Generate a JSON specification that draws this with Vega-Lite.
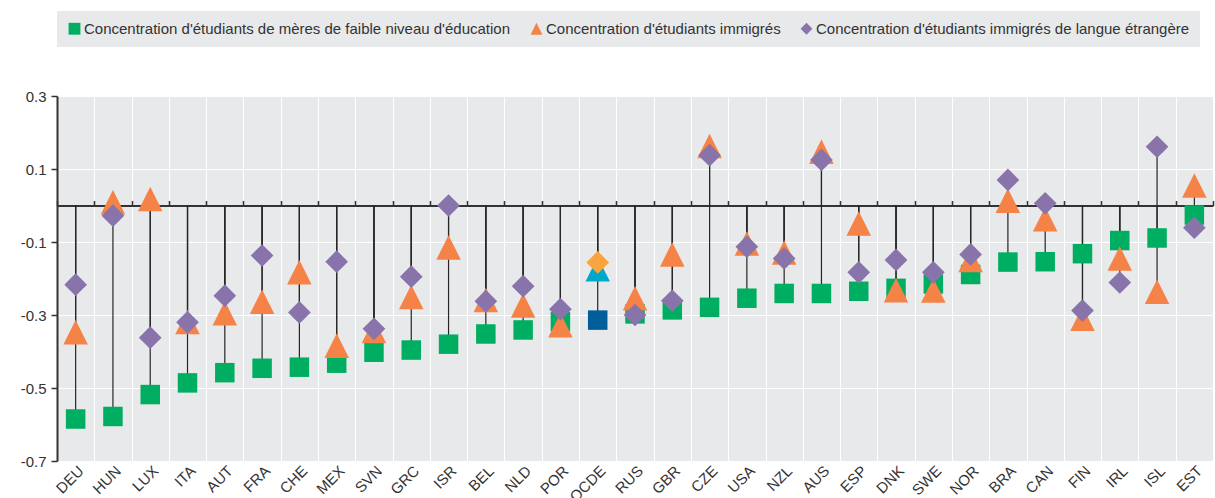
{
  "$schema": "https://vega.github.io/schema/vega-lite/v6.json",
  "width": 1156,
  "height": 365,
  "autosize": {"type": "none"},
  "padding": {"left": 57, "top": 96, "right": 2, "bottom": 37},
  "background": "white",
  "config": {
    "view": {"fill": "#E8E9EB", "stroke": null},
    "font": "Liberation Sans",
    "axis": {"labelFont": "Liberation Sans", "labelColor": "#333333", "labelFontSize": 15, "title": null},
    "legend": {
      "orient": "top", "direction": "horizontal", "title": null, "fillColor": "#E8E9EB",
      "padding": 10, "offset": 49, "labelFontSize": 15, "labelFont": "Liberation Sans",
      "labelColor": "#333333", "labelLimit": 900, "symbolSize": 140, "columnPadding": 18,
      "labelOffset": 2, "symbolStrokeWidth": 0
    }
  },
  "datasets": {
    "d": [
      {"c": "DEU", "s": "Concentration d'étudiants de mères de faible niveau d'éducation", "v": -0.585},
      {"c": "DEU", "s": "Concentration d'étudiants immigrés", "v": -0.347},
      {"c": "DEU", "s": "Concentration d'étudiants immigrés de langue étrangère", "v": -0.217},
      {"c": "HUN", "s": "Concentration d'étudiants de mères de faible niveau d'éducation", "v": -0.578},
      {"c": "HUN", "s": "Concentration d'étudiants immigrés", "v": 0.009},
      {"c": "HUN", "s": "Concentration d'étudiants immigrés de langue étrangère", "v": -0.028},
      {"c": "LUX", "s": "Concentration d'étudiants de mères de faible niveau d'éducation", "v": -0.518},
      {"c": "LUX", "s": "Concentration d'étudiants immigrés", "v": 0.018},
      {"c": "LUX", "s": "Concentration d'étudiants immigrés de langue étrangère", "v": -0.362},
      {"c": "ITA", "s": "Concentration d'étudiants de mères de faible niveau d'éducation", "v": -0.486},
      {"c": "ITA", "s": "Concentration d'étudiants immigrés", "v": -0.319},
      {"c": "ITA", "s": "Concentration d'étudiants immigrés de langue étrangère", "v": -0.320},
      {"c": "AUT", "s": "Concentration d'étudiants de mères de faible niveau d'éducation", "v": -0.458},
      {"c": "AUT", "s": "Concentration d'étudiants immigrés", "v": -0.295},
      {"c": "AUT", "s": "Concentration d'étudiants immigrés de langue étrangère", "v": -0.247},
      {"c": "FRA", "s": "Concentration d'étudiants de mères de faible niveau d'éducation", "v": -0.446},
      {"c": "FRA", "s": "Concentration d'étudiants immigrés", "v": -0.264},
      {"c": "FRA", "s": "Concentration d'étudiants immigrés de langue étrangère", "v": -0.137},
      {"c": "CHE", "s": "Concentration d'étudiants de mères de faible niveau d'éducation", "v": -0.443},
      {"c": "CHE", "s": "Concentration d'étudiants immigrés", "v": -0.183},
      {"c": "CHE", "s": "Concentration d'étudiants immigrés de langue étrangère", "v": -0.293},
      {"c": "MEX", "s": "Concentration d'étudiants de mères de faible niveau d'éducation", "v": -0.432},
      {"c": "MEX", "s": "Concentration d'étudiants immigrés", "v": -0.384},
      {"c": "MEX", "s": "Concentration d'étudiants immigrés de langue étrangère", "v": -0.154},
      {"c": "SVN", "s": "Concentration d'étudiants de mères de faible niveau d'éducation", "v": -0.402},
      {"c": "SVN", "s": "Concentration d'étudiants immigrés", "v": -0.344},
      {"c": "SVN", "s": "Concentration d'étudiants immigrés de langue étrangère", "v": -0.338},
      {"c": "GRC", "s": "Concentration d'étudiants de mères de faible niveau d'éducation", "v": -0.396},
      {"c": "GRC", "s": "Concentration d'étudiants immigrés", "v": -0.251},
      {"c": "GRC", "s": "Concentration d'étudiants immigrés de langue étrangère", "v": -0.195},
      {"c": "ISR", "s": "Concentration d'étudiants de mères de faible niveau d'éducation", "v": -0.380},
      {"c": "ISR", "s": "Concentration d'étudiants immigrés", "v": -0.115},
      {"c": "ISR", "s": "Concentration d'étudiants immigrés de langue étrangère", "v": 0.000},
      {"c": "BEL", "s": "Concentration d'étudiants de mères de faible niveau d'éducation", "v": -0.352},
      {"c": "BEL", "s": "Concentration d'étudiants immigrés", "v": -0.259},
      {"c": "BEL", "s": "Concentration d'étudiants immigrés de langue étrangère", "v": -0.262},
      {"c": "NLD", "s": "Concentration d'étudiants de mères de faible niveau d'éducation", "v": -0.341},
      {"c": "NLD", "s": "Concentration d'étudiants immigrés", "v": -0.274},
      {"c": "NLD", "s": "Concentration d'étudiants immigrés de langue étrangère", "v": -0.221},
      {"c": "POR", "s": "Concentration d'étudiants de mères de faible niveau d'éducation", "v": -0.318},
      {"c": "POR", "s": "Concentration d'étudiants immigrés", "v": -0.328},
      {"c": "POR", "s": "Concentration d'étudiants immigrés de langue étrangère", "v": -0.284},
      {"c": "OCDE", "s": "Concentration d'étudiants de mères de faible niveau d'éducation", "v": -0.314},
      {"c": "OCDE", "s": "Concentration d'étudiants immigrés", "v": -0.175},
      {"c": "OCDE", "s": "Concentration d'étudiants immigrés de langue étrangère", "v": -0.156},
      {"c": "RUS", "s": "Concentration d'étudiants de mères de faible niveau d'éducation", "v": -0.297},
      {"c": "RUS", "s": "Concentration d'étudiants immigrés", "v": -0.254},
      {"c": "RUS", "s": "Concentration d'étudiants immigrés de langue étrangère", "v": -0.300},
      {"c": "GBR", "s": "Concentration d'étudiants de mères de faible niveau d'éducation", "v": -0.286},
      {"c": "GBR", "s": "Concentration d'étudiants immigrés", "v": -0.134},
      {"c": "GBR", "s": "Concentration d'étudiants immigrés de langue étrangère", "v": -0.261},
      {"c": "CZE", "s": "Concentration d'étudiants de mères de faible niveau d'éducation", "v": -0.279},
      {"c": "CZE", "s": "Concentration d'étudiants immigrés", "v": 0.163},
      {"c": "CZE", "s": "Concentration d'étudiants immigrés de langue étrangère", "v": 0.138},
      {"c": "USA", "s": "Concentration d'étudiants de mères de faible niveau d'éducation", "v": -0.254},
      {"c": "USA", "s": "Concentration d'étudiants immigrés", "v": -0.104},
      {"c": "USA", "s": "Concentration d'étudiants immigrés de langue étrangère", "v": -0.113},
      {"c": "NZL", "s": "Concentration d'étudiants de mères de faible niveau d'éducation", "v": -0.241},
      {"c": "NZL", "s": "Concentration d'étudiants immigrés", "v": -0.129},
      {"c": "NZL", "s": "Concentration d'étudiants immigrés de langue étrangère", "v": -0.145},
      {"c": "AUS", "s": "Concentration d'étudiants de mères de faible niveau d'éducation", "v": -0.241},
      {"c": "AUS", "s": "Concentration d'étudiants immigrés", "v": 0.147},
      {"c": "AUS", "s": "Concentration d'étudiants immigrés de langue étrangère", "v": 0.125},
      {"c": "ESP", "s": "Concentration d'étudiants de mères de faible niveau d'éducation", "v": -0.235},
      {"c": "ESP", "s": "Concentration d'étudiants immigrés", "v": -0.049},
      {"c": "ESP", "s": "Concentration d'étudiants immigrés de langue étrangère", "v": -0.183},
      {"c": "DNK", "s": "Concentration d'étudiants de mères de faible niveau d'éducation", "v": -0.227},
      {"c": "DNK", "s": "Concentration d'étudiants immigrés", "v": -0.232},
      {"c": "DNK", "s": "Concentration d'étudiants immigrés de langue étrangère", "v": -0.149},
      {"c": "SWE", "s": "Concentration d'étudiants de mères de faible niveau d'éducation", "v": -0.215},
      {"c": "SWE", "s": "Concentration d'étudiants immigrés", "v": -0.233},
      {"c": "SWE", "s": "Concentration d'étudiants immigrés de langue étrangère", "v": -0.183},
      {"c": "NOR", "s": "Concentration d'étudiants de mères de faible niveau d'éducation", "v": -0.189},
      {"c": "NOR", "s": "Concentration d'étudiants immigrés", "v": -0.149},
      {"c": "NOR", "s": "Concentration d'étudiants immigrés de langue étrangère", "v": -0.134},
      {"c": "BRA", "s": "Concentration d'étudiants de mères de faible niveau d'éducation", "v": -0.155},
      {"c": "BRA", "s": "Concentration d'étudiants immigrés", "v": 0.013},
      {"c": "BRA", "s": "Concentration d'étudiants immigrés de langue étrangère", "v": 0.070},
      {"c": "CAN", "s": "Concentration d'étudiants de mères de faible niveau d'éducation", "v": -0.154},
      {"c": "CAN", "s": "Concentration d'étudiants immigrés", "v": -0.038},
      {"c": "CAN", "s": "Concentration d'étudiants immigrés de langue étrangère", "v": 0.006},
      {"c": "FIN", "s": "Concentration d'étudiants de mères de faible niveau d'éducation", "v": -0.132},
      {"c": "FIN", "s": "Concentration d'étudiants immigrés", "v": -0.310},
      {"c": "FIN", "s": "Concentration d'étudiants immigrés de langue étrangère", "v": -0.288},
      {"c": "IRL", "s": "Concentration d'étudiants de mères de faible niveau d'éducation", "v": -0.096},
      {"c": "IRL", "s": "Concentration d'étudiants immigrés", "v": -0.145},
      {"c": "IRL", "s": "Concentration d'étudiants immigrés de langue étrangère", "v": -0.211},
      {"c": "ISL", "s": "Concentration d'étudiants de mères de faible niveau d'éducation", "v": -0.089},
      {"c": "ISL", "s": "Concentration d'étudiants immigrés", "v": -0.236},
      {"c": "ISL", "s": "Concentration d'étudiants immigrés de langue étrangère", "v": 0.161},
      {"c": "EST", "s": "Concentration d'étudiants de mères de faible niveau d'éducation", "v": -0.026},
      {"c": "EST", "s": "Concentration d'étudiants immigrés", "v": 0.055},
      {"c": "EST", "s": "Concentration d'étudiants immigrés de langue étrangère", "v": -0.061}
    ]
  },
  "data": {"name": "d"},
  "resolve": {"axis": {"x": "independent"}},
  "layer": [
    {
      "mark": {"type": "rule", "color": "#262626", "strokeWidth": 1.2},
      "encoding": {
        "x": {
          "field": "c", "type": "nominal",
          "scale": {"type": "band", "paddingInner": 0, "paddingOuter": 0,
            "domain": ["DEU","HUN","LUX","ITA","AUT","FRA","CHE","MEX","SVN","GRC","ISR","BEL","NLD","POR","OCDE","RUS","GBR","CZE","USA","NZL","AUS","ESP","DNK","SWE","NOR","BRA","CAN","FIN","IRL","ISL","EST"]},
          "axis": {"orient": "bottom", "labelAngle": -45, "labelPadding": 2, "ticks": false, "domain": false,
            "grid": true, "gridColor": "#FFFFFF", "gridWidth": 1, "tickBand": "extent", "zindex": 0}
        },
        "y": {
          "field": "v", "type": "quantitative",
          "scale": {"domain": [-0.7, 0.3], "nice": false, "zero": false},
          "axis": {"values": [-0.7, -0.5, -0.3, -0.1, 0.1, 0.3],
            "labelExpr": "datum.value < 0 ? '-' + format(-datum.value, '.1f') : format(datum.value, '.1f')",
            "domain": true, "domainColor": "#333333", "domainWidth": 2,
            "ticks": true, "tickColor": "#333333", "tickSize": 6, "tickWidth": 1.5,
            "grid": true, "gridColor": "#FFFFFF", "gridWidth": 1, "labelPadding": 5}
        },
        "y2": {"datum": 0}
      }
    },
    {
      "transform": [{"filter": {"field": "s", "equal": "Concentration d'étudiants de mères de faible niveau d'éducation"}}],
      "mark": {"type": "point", "filled": true, "opacity": 1, "size": 380},
      "encoding": {
        "x": {"field": "c", "type": "nominal",
          "axis": {"orient": "top", "offset": -109.5, "labels": false, "grid": false, "tickBand": "extent",
            "ticks": true, "tickSize": 5, "tickColor": "#333333", "tickWidth": 1.5,
            "domain": true, "domainColor": "#333333", "domainWidth": 2}},
        "y": {"field": "v", "type": "quantitative"},
        "color": {
          "condition": {"test": "datum.c === 'OCDE'", "value": "#005E9B"},
          "field": "s", "type": "nominal",
          "scale": {"domain": ["Concentration d'étudiants de mères de faible niveau d'éducation", "Concentration d'étudiants immigrés", "Concentration d'étudiants immigrés de langue étrangère"],
            "range": ["#00AE61", "#F58247", "#8874AA"]}
        },
        "shape": {
          "field": "s", "type": "nominal",
          "scale": {"domain": ["Concentration d'étudiants de mères de faible niveau d'éducation", "Concentration d'étudiants immigrés", "Concentration d'étudiants immigrés de langue étrangère"],
            "range": ["square", "M0,-1L1,1L-1,1Z", "diamond"]}
        }
      }
    },
    {
      "transform": [{"filter": {"field": "s", "equal": "Concentration d'étudiants immigrés"}}],
      "mark": {"type": "point", "filled": true, "opacity": 1, "size": 600},
      "encoding": {
        "x": {"field": "c", "type": "nominal", "axis": null},
        "y": {"field": "v", "type": "quantitative"},
        "color": {
          "condition": {"test": "datum.c === 'OCDE'", "value": "#00A9CA"},
          "field": "s", "type": "nominal"
        },
        "shape": {"field": "s", "type": "nominal"}
      }
    },
    {
      "transform": [{"filter": {"field": "s", "equal": "Concentration d'étudiants immigrés de langue étrangère"}}],
      "mark": {"type": "point", "filled": true, "opacity": 1, "size": 515},
      "encoding": {
        "x": {"field": "c", "type": "nominal", "axis": null},
        "y": {"field": "v", "type": "quantitative"},
        "color": {
          "condition": {"test": "datum.c === 'OCDE'", "value": "#F9A53F"},
          "field": "s", "type": "nominal"
        },
        "shape": {"field": "s", "type": "nominal"}
      }
    }
  ]
}
